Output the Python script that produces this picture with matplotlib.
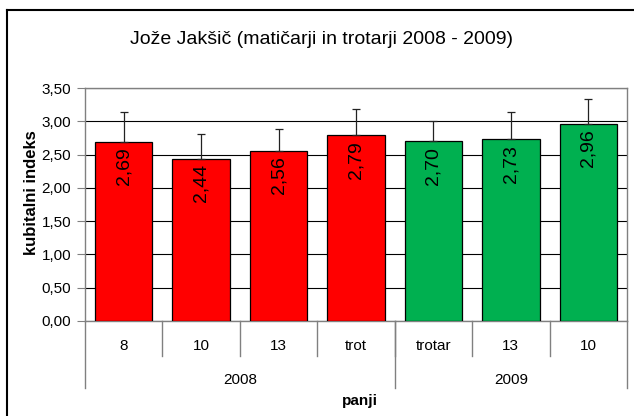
import matplotlib
matplotlib.use('Agg')
import matplotlib.pyplot as plt
import matplotlib.transforms as mtransforms
from matplotlib.lines import Line2D
import numpy as np

plt.rcParams['font.family'] = ['Liberation Sans', 'DejaVu Sans']

# data
panji = ['8', '10', '13', 'trot', 'trotar', '13', '10']
leta = ['2008', '2009']
leto_n = [4, 3]
indeks = [2.69, 2.44, 2.56, 2.79, 2.70, 2.73, 2.96]
napaka = [0.45, 0.37, 0.32, 0.39, 0.31, 0.41, 0.37]
barve = ['#FF0000'] * 4 + ['#00B050'] * 3

W, H = 634, 416
fig = plt.figure(figsize=(W / 100, H / 100), dpi=100)
ax = fig.add_axes([85 / W, 1 - 321 / H, 542 / W, 233 / H])

x = np.arange(len(panji))
ax.bar(x, indeks, width=0.74, color=barve, edgecolor='black', linewidth=0.9, zorder=3)
ax.errorbar(x, indeks, yerr=[np.zeros(len(napaka)), napaka], fmt='none',
            ecolor='#222222', elinewidth=0.9, capsize=3, capthick=0.9, zorder=4)

for xi, v in zip(x, indeks):
    ax.annotate(f'{v:.2f}'.replace('.', ','), (xi, v), xytext=(0, -4),
                textcoords='offset points', rotation=90, ha='center', va='top',
                fontsize=14, zorder=5)

ax.set_xlim(-0.5, len(panji) - 0.5)
ax.set_ylim(0, 3.5)
yt = np.arange(0, 3.51, 0.5)
ax.set_yticks(yt)
ax.set_yticklabels([f'{t:.2f}'.replace('.', ',') for t in yt], fontsize=11)
ax.tick_params(axis='y', direction='out', length=6, color='#808080', pad=4)
ax.set_xticks([])
ax.grid(axis='y', color='black', linewidth=0.8, zorder=0)
ax.set_axisbelow(True)
for s in ax.spines.values():
    s.set_color('#808080')
    s.set_linewidth(1)

# multi-level category axis
tr = ax.get_xaxis_transform()
y1 = -(355.5 - 321) / 233
y2 = -(388 - 321) / 233
for b in np.arange(0.5, len(panji) - 0.5, 1):
    ax.add_line(Line2D([b, b], [0, y1], transform=tr, color='#808080', lw=1, clip_on=False))
meje = np.concatenate([[0], np.cumsum(leto_n)]) - 0.5
for b in meje:
    ax.add_line(Line2D([b, b], [0, y2], transform=tr, color='#808080', lw=1, clip_on=False))
trf = mtransforms.blended_transform_factory(ax.transData, fig.transFigure)
for xi, lab in zip(x, panji):
    fig.text(xi, 1 - 346 / H, lab, fontsize=11, ha='center', va='center', transform=trf)
for i, lab in enumerate(leta):
    c = (meje[i] + meje[i + 1]) / 2
    fig.text(c, 1 - 380 / H, lab, fontsize=11, ha='center', va='center', transform=trf)

fig.text(360 / W, 1 - 401 / H, 'panji', fontsize=11, fontweight='bold', ha='center', va='center')
fig.text(32 / W, 1 - 193 / H, 'kubitalni indeks', fontsize=12, fontweight='bold',
         rotation=90, ha='center', va='center')
fig.text(321 / W, 1 - 40 / H, 'Jože Jakšič (matičarji in trotarji 2008 - 2009)',
         fontsize=14, ha='center', va='center')

# chart frame (only left and top edges fall inside the picture)
fig.add_artist(Line2D([7 / W, 7 / W], [0, 1 - 10 / H], transform=fig.transFigure, color='black', lw=1.5))
fig.add_artist(Line2D([7 / W, 1], [1 - 10 / H, 1 - 10 / H], transform=fig.transFigure, color='black', lw=1.5))

fig.savefig('out.png', dpi=100)
